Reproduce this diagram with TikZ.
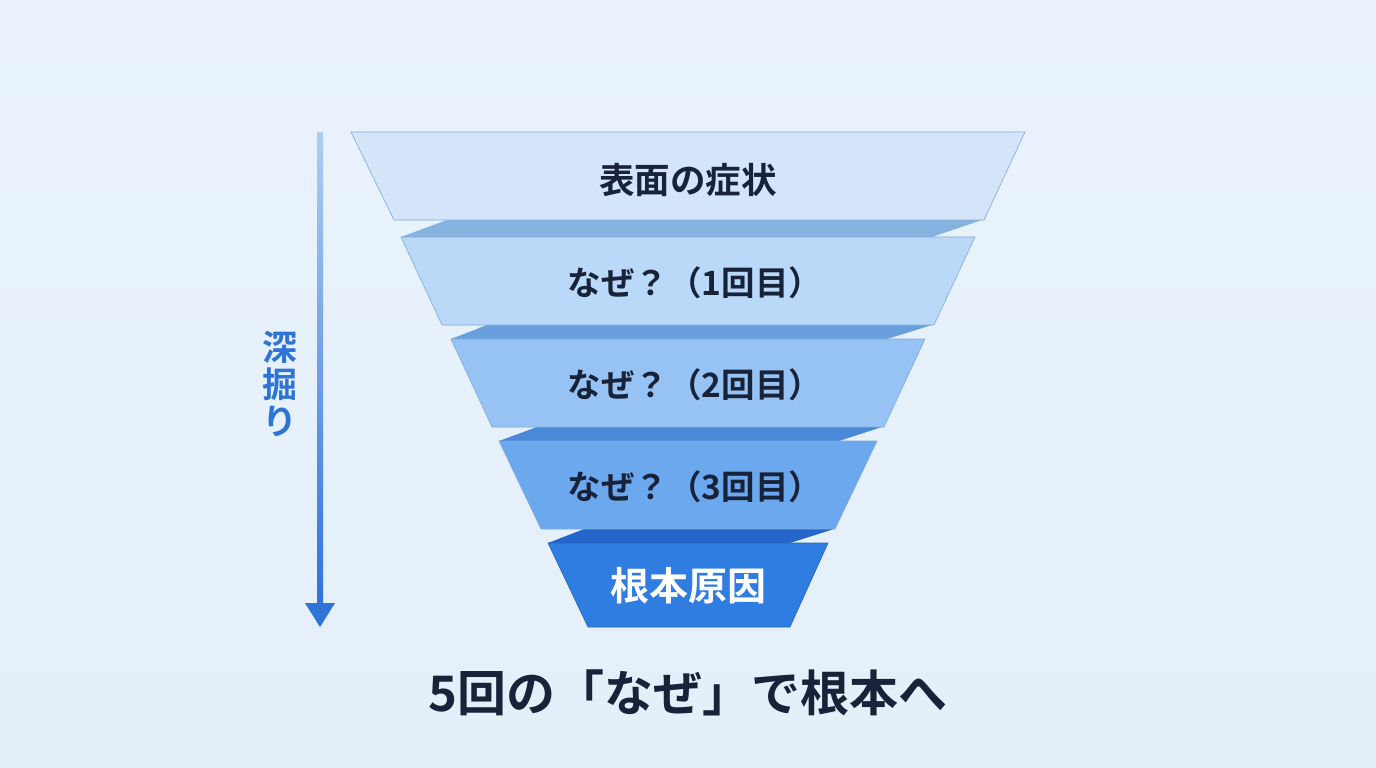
\documentclass[tikz,border=0pt]{standalone}
\usepackage{fontspec}
\newfontfamily\jpfont{Noto Sans CJK JP}[BoldFont={Noto Sans CJK JP Bold}]
\definecolor{bgtop}{HTML}{EAF3FC}
\definecolor{bgbot}{HTML}{E4EFFA}
\definecolor{ink}{HTML}{18233A}
\definecolor{edge}{HTML}{7FA8DA}
\definecolor{fA}{HTML}{D4E5FA}
\definecolor{fB}{HTML}{BAD8F8}
\definecolor{fC}{HTML}{97C3F4}
\definecolor{fD}{HTML}{6CA8EE}
\definecolor{fE}{HTML}{2F7DE1}
\definecolor{bA}{HTML}{86B2E0}
\definecolor{bB}{HTML}{6A9FDE}
\definecolor{bC}{HTML}{4A88D8}
\definecolor{bD}{HTML}{2466C9}
\definecolor{deep}{HTML}{2E74D8}
\definecolor{arrtop}{HTML}{AFCDF2}
\tikzset{
  layer/.style={draw=edge, line width=0.6pt},
  lbl/.style={font=\jpfont\bfseries\fontsize{33.5}{38}\selectfont, text=ink, inner sep=0pt},
}
\begin{document}
\begin{tikzpicture}[x=1pt,y=-1pt]
\shade[top color=bgtop, bottom color=bgbot] (0,0) rectangle (1376,768);
\useasboundingbox (0,0) rectangle (1376,768);
% bands
\fill[bA] (401,237) -- (447,220) -- (982,220) -- (932,237) -- cycle;
\fill[bB] (451,339) -- (487,325) -- (932,325) -- (887,339) -- cycle;
\fill[bC] (499,441) -- (537,427) -- (882,427) -- (839,441) -- cycle;
\fill[bD] (548,543) -- (584,529) -- (834,529) -- (790,543) -- cycle;
% layers
\filldraw[layer, fill=fA] (351,132) -- (1025,132) -- (984,220) -- (394,220) -- cycle;
\filldraw[layer, fill=fB] (401,237) -- (975,237) -- (934,325) -- (442,325) -- cycle;
\filldraw[layer, fill=fC] (451,339) -- (925,339) -- (884,427) -- (492,427) -- cycle;
\filldraw[layer, fill=fD] (499,441) -- (877,441) -- (835,529) -- (541,529) -- cycle;
\filldraw[layer, draw=fE!80!black, fill=fE] (548,543) -- (828,543) -- (790,627) -- (588,627) -- cycle;
% labels
\node[lbl, font=\jpfont\bfseries\fontsize{35.5}{40}\selectfont] (t1) at (688,180) {表面の症状};
\node[lbl] (t2) at (695,283) {なぜ？（1回目）};
\node[lbl] (t3) at (695,385) {なぜ？（2回目）};
\node[lbl] (t4) at (695,487) {なぜ？（3回目）};
\node[lbl, text=white, font=\jpfont\bfseries\fontsize{39}{44}\selectfont] (t5) at (688,586) {根本原因};
% depth arrow
\shade[top color=arrtop, bottom color=deep] (317,132) rectangle (323,605);
\coordinate (tipL) at (305,603);
\coordinate (tipR) at (335,603);
\coordinate (tip) at (320,627);
\fill[deep] (tipL) -- (tipR) -- (tip) -- cycle;
\node[font=\jpfont\bfseries\fontsize{35}{37}\selectfont, text=deep, align=center, inner sep=0pt] (dig) at (280,384) {深\\掘\\り};
% title
\node[font=\jpfont\bfseries\fontsize{49}{56}\selectfont, text=ink, inner sep=0pt] (title) at (688,693) {5回の「なぜ」で根本へ};
\end{tikzpicture}
\end{document}
